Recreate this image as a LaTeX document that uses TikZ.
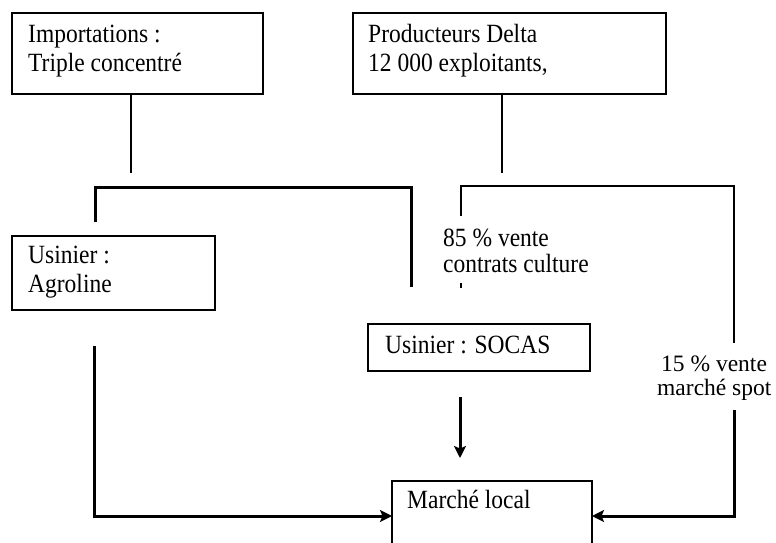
\documentclass[tikz,border=0pt]{standalone}
\usepackage{fontspec}
\setmainfont{Liberation Serif}
\usetikzlibrary{arrows.meta,calc}
\newcommand{\tall}[1]{\scalebox{1}[1.12]{#1}}
\begin{document}
\begin{tikzpicture}[x=1pt,y=-1pt,
  box/.style={draw, line width=1.9pt, inner sep=0pt, outer sep=0pt, anchor=north west},
  txt/.style={anchor=base west, inner sep=0pt, font=\fontsize{23.5}{28}\selectfont},
  thinline/.style={line width=1.9pt},
  thickline/.style={line width=3pt},
  arr/.style={line width=3pt, -{Stealth[length=12pt,width=12pt,inset=2.5pt]}}]
\useasboundingbox (0,0) rectangle (776,543);
\clip (0,0) rectangle (776,543);
% boxes
\node[box, minimum width=251pt, minimum height=81pt] (imp) at (12,13) {};
\node[box, minimum width=313pt, minimum height=81pt] (prod) at (353,13) {};
\node[box, minimum width=203pt, minimum height=74pt] (agro) at (12,236) {};
\node[box, minimum width=222pt, minimum height=47pt] (socas) at (368,324) {};
\node[box, minimum width=200pt, minimum height=100pt] (marche) at (392,481) {};
% texts
\node[txt] (t1) at (28,43) {\tall{Importations :}};
\node[txt] (t2) at (28,71) {\tall{Triple concentré}};
\node[txt] (t3) at (368,43) {\tall{Producteurs Delta}};
\node[txt] (t4) at (368,71) {\tall{12 000 exploitants,}};
\node[txt] (t5) at (28,263) {\tall{Usinier :}};
\node[txt] (t6) at (28,292) {\tall{Agroline}};
\node[txt] (t7) at (443,246) {\tall{85 \% vente}};
\node[txt] (t8) at (443,272) {\tall{contrats culture}};
\node[txt] (t9) at (385,353) {\tall{Usinier : SOCAS}};
\node[txt, font=\fontsize{23.5}{24}\selectfont, align=left] (t10) at (657,395) {\hspace{4pt}15 \% vente\\marché spot};
\node[txt] (t12) at (407,508) {\tall{Marché local}};
% coordinates
\coordinate (b1) at (95,222);
\coordinate (b2) at (95,187);
\coordinate (b3) at (411,187);
\coordinate (b4) at (411,287);
\coordinate (r1) at (461,216);
\coordinate (r2) at (461,186);
\coordinate (r3) at (734,186);
\coordinate (r4) at (734,343);
\coordinate (r5) at (734,410);
\coordinate (r6) at (734,516);
\coordinate (k1) at (461,283);
\coordinate (k2) at (461,288);
\coordinate (l1) at (94,346);
\coordinate (l2) at (94,516);
\coordinate (s1) at (460,397);
\coordinate (s2) at (460,458);
% connectors
\draw[thinline] (imp.south west) ++(119,0) -- ++(0,79);
\draw[thinline] (prod.south west) ++(149,0) -- ++(0,79);
\draw[thickline] (b1) -- (b2) -- (b3) -- (b4);
\draw[thinline] (r1) -- (r2) -- (r3) -- (r4);
\draw[thinline] (k1) -- (k2);
\draw[arr] (r5) -- (r6) -- ($(marche.north east)+(0,35)$);
\draw[arr] (l1) -- (l2) -- ($(marche.north west)+(0,35)$);
\draw[arr] (s1) -- (s2);
\end{tikzpicture}
\end{document}
